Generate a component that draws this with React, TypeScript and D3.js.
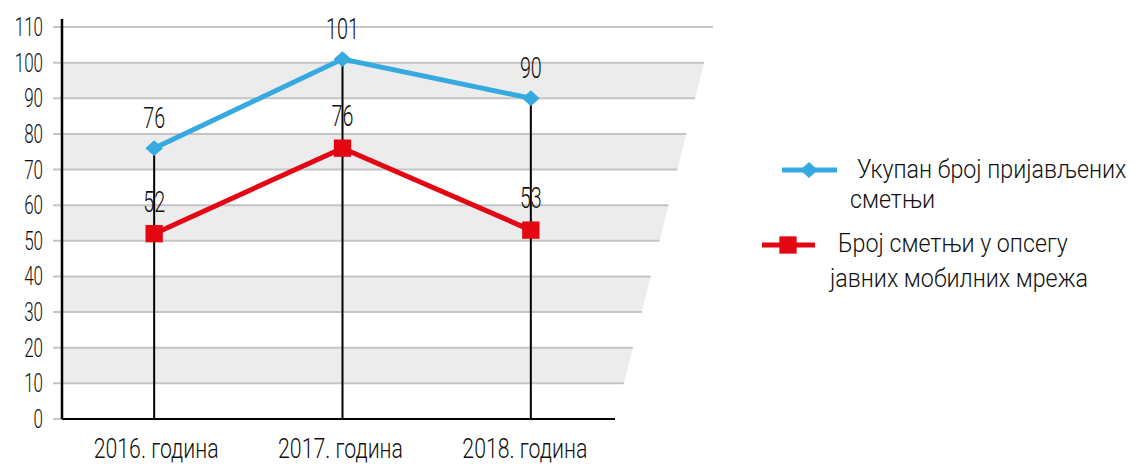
import React from 'react';
import { scaleLinear, scalePoint, line, symbol, symbolSquare } from 'd3';

const categories = ['2016. година', '2017. година', '2018. година'];
const totalReports = [76, 101, 90];
const mobileReports = [52, 76, 53];
const yTicks = [0, 10, 20, 30, 40, 50, 60, 70, 80, 90, 100, 110];
const seriesNames = [
  ['Укупан број пријављених', 'сметњи'],
  ['Број сметњи у опсегу', 'јавних мобилних мрежа'],
];

const BLUE = '#36a9e1';
const RED = '#e30613';
const FONT = 'Roboto, sans-serif';

const Label = ({ x, y, anchor = 'start', size = 24, sx = 0.72, children }: any) => (
  <text
    transform={`translate(${x},${y}) scale(${sx},1)`}
    textAnchor={anchor}
    fontFamily={FONT}
    fontWeight={300}
    fontSize={size}
    fill="#111"
  >
    {children}
  </text>
);

const App = () => {
  const axisX = 62;
  const y = scaleLinear().domain([0, 110]).range([419, 27]);
  // right edge of the slanted floor
  const xRight = scaleLinear().domain([0, 110]).range([615, 713]);
  const x = scalePoint<string>().domain(categories).range([60, 625]).padding(0.5);
  const xLab = scalePoint<string>().domain(categories).range([64, 617]).padding(0.5);

  const path = line<number>()
    .x((d, i) => x(categories[i]) as number)
    .y((d) => y(d));

  const diamond = symbol().type(symbolSquare).size(155)();
  const square = symbol().type(symbolSquare).size(300)();

  const bands = yTicks.filter((t) => t % 20 === 10 && t < 110);

  return (
    <svg width={1137} height={464} style={{ position: 'absolute', left: 0, top: 0 }}>
      {/* shaded bands */}
      {bands.map((t) => (
        <polygon
          key={'b' + t}
          points={`${axisX},${y(t + 10)} ${xRight(t + 10)},${y(t + 10)} ${xRight(t)},${y(t)} ${axisX},${y(t)}`}
          fill="#ececec"
        />
      ))}
      {/* gridlines */}
      {yTicks.filter((t) => t > 0).map((t) => (
        <line key={'g' + t} x1={53} x2={xRight(t)} y1={y(t)} y2={y(t)} stroke="#c4c4c4" strokeWidth={2} />
      ))}
      <line x1={53} x2={axisX} y1={y(0)} y2={y(0)} stroke="#c4c4c4" strokeWidth={2} />
      {/* tick labels */}
      {yTicks.map((t) => (
        <Label key={'t' + t} x={43} y={y(t) + 9} anchor="end" size={25} sx={0.68}>
          {t}
        </Label>
      ))}
      {/* axes */}
      <line x1={axisX} x2={xRight(0)} y1={y(0)} y2={y(0)} stroke="#000" strokeWidth={2} />
      <line x1={axisX} x2={axisX} y1={19} y2={y(0)} stroke="#000" strokeWidth={2.5} />
      {/* drop lines */}
      {categories.map((c, i) => (
        <line
          key={'d' + c}
          x1={x(c)}
          x2={x(c)}
          y1={y(Math.max(totalReports[i], mobileReports[i]))}
          y2={y(0)}
          stroke="#000"
          strokeWidth={2}
        />
      ))}
      {/* series */}
      <path d={path(totalReports) as string} fill="none" stroke={BLUE} strokeWidth={5} />
      <path d={path(mobileReports) as string} fill="none" stroke={RED} strokeWidth={5} />
      {totalReports.map((v, i) => (
        <path
          key={'bm' + i}
          d={diamond as string}
          transform={`translate(${x(categories[i])},${y(v)}) scale(1,0.9) rotate(45)`}
          fill={BLUE}
        />
      ))}
      {mobileReports.map((v, i) => (
        <path key={'rm' + i} d={square as string} transform={`translate(${x(categories[i])},${y(v)})`} fill={RED} />
      ))}
      {/* data labels */}
      {totalReports.map((v, i) => (
        <Label key={'bl' + i} x={x(categories[i])} y={y(v) - 20} anchor="middle" size={29} sx={0.68}>
          {v}
        </Label>
      ))}
      {mobileReports.map((v, i) => (
        <Label key={'rl' + i} x={x(categories[i])} y={y(v) - 22} anchor="middle" size={29} sx={0.68}>
          {v}
        </Label>
      ))}
      {/* category labels */}
      {categories.map((c) => (
        <Label key={'c' + c} x={xLab(c)} y={458} anchor="middle" size={28} sx={0.76}>
          {c}
        </Label>
      ))}
      {/* legend */}
      <line x1={782} x2={837} y1={170} y2={170} stroke={BLUE} strokeWidth={5} />
      <path d={diamond as string} transform="translate(809,170) scale(1,0.9) rotate(45)" fill={BLUE} />
      <Label x={857} y={178} size={25} sx={0.93}>{seriesNames[0][0]}</Label>
      <Label x={850} y={208} size={25} sx={0.93}>{seriesNames[0][1]}</Label>
      <line x1={762} x2={815} y1={245} y2={245} stroke={RED} strokeWidth={5} />
      <path d={square as string} transform="translate(788,245)" fill={RED} />
      <Label x={838} y={252} size={25} sx={0.93}>{seriesNames[1][0]}</Label>
      <Label x={830} y={287} size={25} sx={0.93}>{seriesNames[1][1]}</Label>
    </svg>
  );
};

export default App;
